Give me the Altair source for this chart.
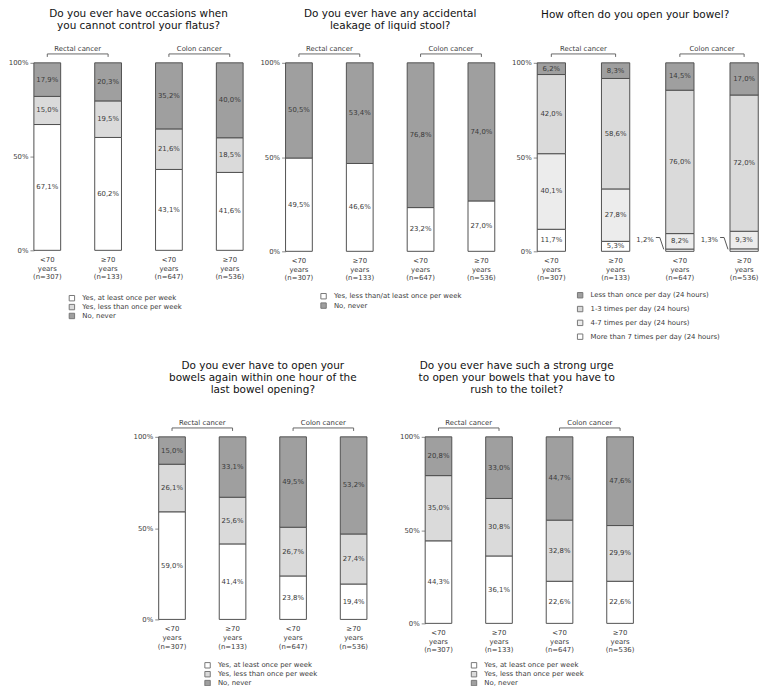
import altair as alt
import pandas as pd

FONT = "DejaVu Sans"
TXT = "#3a3a3a"
WHITE, LIGHT, HATCH, DARK = "#ffffff", "#dadada", "#ececec", "#9f9f9f"
PAD_INNER = 0.56

# ---- shared categories ----
groups = ["<70|years|(n=307)", "≥70|years|(n=133)", "<70|years|(n=647)", "≥70|years|(n=536)"]
cancer_types = ["Rectal cancer", "Colon cancer"]

# ---- panel 1 ----
flatus_title = ["Do you ever have occasions when", "you cannot control your flatus?"]
flatus_cats = ["Yes, at least once per week", "Yes, less than once per week", "No, never"]
flatus_weekly = [67.1, 60.2, 43.1, 41.6]
flatus_less = [15.0, 19.5, 21.6, 18.5]
flatus_never = [17.9, 20.3, 35.2, 40.0]

# ---- panel 2 ----
leak_title = ["Do you ever have any accidental", "leakage of liquid stool?"]
leak_cats = ["Yes, less than/at least once per week", "No, never"]
leak_yes = [49.5, 46.6, 23.2, 27.0]
leak_never = [50.5, 53.4, 76.8, 74.0]

# ---- panel 3 ----
freq_title = ["How often do you open your bowel?"]
freq_cats = ["Less than once per day (24 hours)", "1-3 times per day (24 hours)",
             "4-7 times per day (24 hours)", "More than 7 times per day (24 hours)"]
freq_lt1 = [6.2, 8.3, 14.5, 17.0]
freq_1_3 = [42.0, 58.6, 76.0, 72.0]
freq_4_7 = [40.1, 27.8, 8.2, 9.3]
freq_gt7 = [11.7, 5.3, 1.2, 1.3]

# ---- panel 4 ----
again_title = ["Do you ever have to open your", "bowels again within one hour of the", "last bowel opening?"]
again_cats = ["Yes, at least once per week", "Yes, less than once per week", "No, never"]
again_weekly = [59.0, 41.4, 23.8, 19.4]
again_less = [26.1, 25.6, 26.7, 27.4]
again_never = [15.0, 33.1, 49.5, 53.2]

# ---- panel 5 ----
urge_title = ["Do you ever have such a strong urge", "to open your bowels that you have to", "rush to the toilet?"]
urge_cats = ["Yes, at least once per week", "Yes, less than once per week", "No, never"]
urge_weekly = [44.3, 36.1, 22.6, 22.6]
urge_less = [35.0, 30.8, 32.8, 29.9]
urge_never = [20.8, 33.0, 44.7, 47.6]


def panel(title_lines, series, legend_order, legend_colors, width, height,
          legend_x, legend_y, row_pad, title_offset, title_frame="bounds", leaders=False):
    rows = []
    for order, (cat, vals) in enumerate(series):
        for g, v in zip(groups, vals):
            rows.append({"grp": g, "cat": cat, "order": order, "value": v})
    df = pd.DataFrame(rows)

    step = width / (len(groups) - PAD_INNER)
    band = step * (1 - PAD_INNER)

    def px(p):  # pixel distance -> fraction of plot height
        return p / height

    xscale = alt.Scale(domain=groups, paddingInner=PAD_INNER, paddingOuter=0)
    yscale = alt.Scale(domain=[0, 1], nice=False, zero=True)
    x_axis = alt.Axis(title=None, labelExpr="split(datum.label, '|')", labelAngle=0,
                      ticks=False, domain=False, labelFont=FONT, labelFontSize=7,
                      labelColor=TXT, labelLineHeight=9, labelPadding=5, labelBaseline="top")
    y_axis = alt.Axis(title=None, values=[0, 0.5, 1], format=".0%", grid=False,
                      domainColor="#8a8a8a", domainWidth=1, tickColor="#8a8a8a", tickSize=4,
                      labelFont=FONT, labelFontSize=7, labelColor=TXT, labelPadding=2)
    X = alt.X("grp:N", scale=xscale, axis=x_axis)

    base = (alt.Chart(df)
            .transform_joinaggregate(total="sum(value)", groupby=["grp"])
            .transform_window(cum="sum(value)", sort=[alt.SortField("order")],
                              groupby=["grp"], frame=[None, 0])
            .transform_calculate(y0="(datum.cum - datum.value) / datum.total",
                                 y1="datum.cum / datum.total",
                                 mid="(datum.cum - datum.value / 2) / datum.total",
                                 lab="replace(format(datum.value, '.1f'), '.', ',') + '%'"))

    bars = base.mark_bar(stroke="#505050", strokeWidth=1).encode(
        x=X,
        y=alt.Y("y0:Q", scale=yscale, axis=y_axis),
        y2="y1:Q",
        fill=alt.Fill("cat:N", scale=alt.Scale(domain=legend_order, range=legend_colors),
                      legend=alt.Legend(orient="none", legendX=legend_x, legendY=legend_y,
                                        direction="vertical", title=None, symbolType="square",
                                        symbolSize=30, symbolStrokeColor="#777",
                                        symbolStrokeWidth=1, labelFont=FONT, labelFontSize=7,
                                        labelColor=TXT, rowPadding=row_pad, labelOffset=7,
                                        padding=0, labelLimit=0)),
    )
    texts = base.transform_filter("datum.value >= 3").mark_text(
        font=FONT, fontSize=7, color=TXT).encode(
        x=X, y=alt.Y("mid:Q", scale=yscale, axis=y_axis), text="lab:N")

    yb = 1 + px(9)
    brk = pd.DataFrame({"start": groups[0::2], "end": groups[1::2], "name": cancer_types})
    ticks = pd.DataFrame({"grp": groups})
    b_line = alt.Chart(brk).mark_rule(color="#666", strokeWidth=1).encode(
        x=alt.X("start:N", scale=xscale, axis=x_axis), x2="end:N",
        y=alt.Y(datum=yb, type="quantitative", scale=yscale, axis=y_axis))
    b_ticks = alt.Chart(ticks).mark_rule(color="#666", strokeWidth=1).encode(
        x=X, y=alt.Y(datum=yb, type="quantitative", scale=yscale, axis=y_axis),
        y2=alt.Y2(datum=yb - px(3)))
    b_text = alt.Chart(brk).mark_text(font=FONT, fontSize=7, color=TXT, xOffset=step / 2,
                                      baseline="middle").encode(
        x=alt.X("start:N", scale=xscale, axis=x_axis),
        y=alt.Y(datum=1 + px(14), type="quantitative", scale=yscale, axis=y_axis),
        text="name:N")

    layers = [bars, texts, b_line, b_ticks, b_text]

    if leaders:
        small = base.transform_filter("datum.value < 3")
        edge = band / 2
        l_text = small.mark_text(font=FONT, fontSize=7, color=TXT, align="right",
                                 xOffset=-(edge + 12)).encode(
            x=X, y=alt.Y(datum=px(11), type="quantitative", scale=yscale, axis=y_axis),
            text="lab:N")
        l_h = small.mark_rule(color="#555", strokeWidth=1, xOffset=-(edge + 10),
                              x2Offset=-(edge + 6)).encode(
            x=X, x2="grp:N",
            y=alt.Y(datum=px(14), type="quantitative", scale=yscale, axis=y_axis))
        l_d = small.mark_rule(color="#555", strokeWidth=1, xOffset=-(edge + 6),
                              x2Offset=-(edge + 2)).encode(
            x=X, x2="grp:N",
            y=alt.Y(datum=px(14), type="quantitative", scale=yscale, axis=y_axis),
            y2=alt.Y2(datum=px(2)))
        layers += [l_text, l_h, l_d]

    return alt.layer(*layers).properties(
        width=width, height=height,
        title=alt.TitleParams(text=title_lines, font=FONT, fontSize=10.6, fontWeight="normal",
                              color="#111", lineHeight=12.2, anchor="middle",
                              offset=title_offset, frame=title_frame))


p1 = panel(flatus_title,
           [(flatus_cats[0], flatus_weekly), (flatus_cats[1], flatus_less), (flatus_cats[2], flatus_never)],
           flatus_cats, [WHITE, LIGHT, DARK], 212, 190, 35, 235, -3.5, 14, "group")
p2 = panel(leak_title,
           [(leak_cats[0], leak_yes), (leak_cats[1], leak_never)],
           leak_cats, [WHITE, DARK], 212, 191, 35, 233, -1.5, 14, "group")
p3 = panel(freq_title,
           [(freq_cats[3], freq_gt7), (freq_cats[2], freq_4_7), (freq_cats[1], freq_1_3), (freq_cats[0], freq_lt1)],
           freq_cats, [DARK, LIGHT, HATCH, WHITE], 224, 191, 40, 232, 3, 25, "bounds", leaders=True)
p4 = panel(again_title,
           [(again_cats[0], again_weekly), (again_cats[1], again_less), (again_cats[2], again_never)],
           again_cats, [WHITE, LIGHT, DARK], 211, 185, 46, 228, -4, 24, "group")
p5 = panel(urge_title,
           [(urge_cats[0], urge_weekly), (urge_cats[1], urge_less), (urge_cats[2], urge_never)],
           urge_cats, [WHITE, LIGHT, DARK], 211, 189, 46, 228, -4, 24, "bounds")

res = dict(fill="independent", x="independent", y="independent")
row1 = alt.hconcat(p1, p2, p3, spacing=15).resolve_scale(**res)
row2 = alt.hconcat(p4, p5, spacing=31).resolve_scale(**res)
chart = (alt.vconcat(row1, row2, spacing=18, center=True)
         .resolve_scale(**res)
         .properties(padding={"left": 0, "top": -4, "right": 0, "bottom": 0}, background="white")
         .configure_view(stroke=None))

chart.save("out.html", embed_options={"renderer": "svg", "actions": False})
